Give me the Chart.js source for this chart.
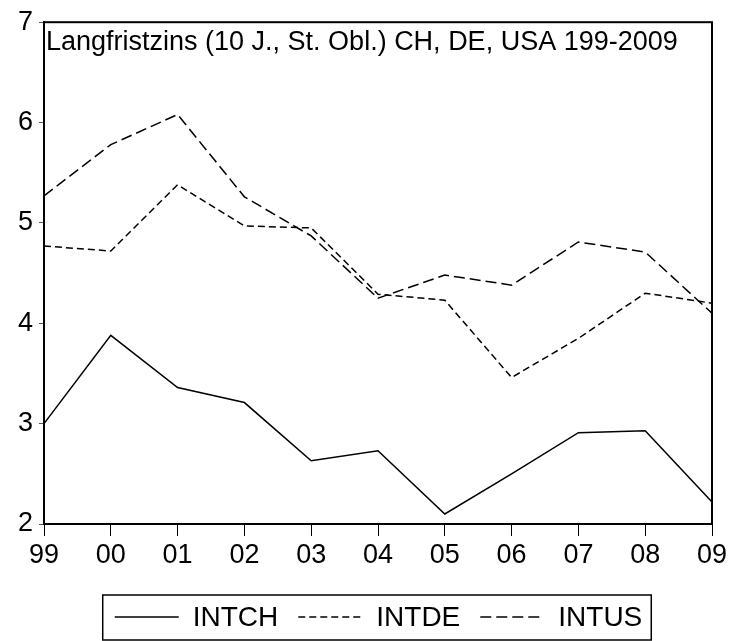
<!DOCTYPE html>
<html>
<head>
<meta charset="utf-8">
<script src="https://cdn.jsdelivr.net/npm/chart.js@4.4.1/dist/chart.umd.min.js"></script>
<style>
  html, body { margin: 0; padding: 0; background: #fff; }
  #box { width: 732px; height: 641px; }
</style>
</head>
<body>
<div id="box"><canvas id="graphique"></canvas></div>
<script>
// ---------------- Donnees ----------------
const titre = 'Langfristzins (10 J., St. Obl.) CH, DE, USA 199-2009';
const annees = ['99', '00', '01', '02', '03', '04', '05', '06', '07', '08', '09'];
const intCH = [3.00, 3.88, 3.36, 3.21, 2.63, 2.73, 2.10, 2.50, 2.91, 2.93, 2.22];
const intDE = [4.77, 4.72, 5.38, 4.97, 4.95, 4.29, 4.23, 3.46, 3.85, 4.30, 4.20];
const intUS = [5.27, 5.78, 6.08, 5.26, 4.87, 4.25, 4.48, 4.38, 4.81, 4.71, 4.10];
const yMin = 2, yMax = 7, yStep = 1;

const police = '"Liberation Sans", Arial, sans-serif';

// cadre autour de la zone, titre dans le graphique, legende encadree en bas
const cadrePlugin = {
    id: 'cadre',
    afterDraw(chart) {
        const ctx = chart.ctx;
        const a = chart.chartArea;
        ctx.save();
        ctx.strokeStyle = '#000';
        ctx.lineWidth = 2;
        ctx.strokeRect(a.left, a.top, a.right - a.left, a.bottom - a.top);

        // titre
        ctx.fillStyle = '#000';
        ctx.font = '27px ' + police;
        ctx.textAlign = 'left';
        ctx.textBaseline = 'alphabetic';
        ctx.fillText(titre, a.left + 2, a.top + 28);

        // legende
        const longLigne = 64, ecartTexte = 14, ecartItem = 20;
        ctx.font = '28px ' + police;
        const items = chart.data.datasets.map(ds => ({
            label: ds.label,
            dash: ds.borderDash || [],
            largeur: ctx.measureText(ds.label).width
        }));
        let total = 0;
        items.forEach((it, i) => {
            total += longLigne + ecartTexte + it.largeur + (i < items.length - 1 ? ecartItem : 0);
        });
        const centreX = (a.left + a.right) / 2 + 0.5;
        const yMilieu = chart.height - 24;
        let x = centreX - total / 2;
        const x1 = x - 12;
        ctx.textBaseline = 'middle';
        items.forEach((it, i) => {
            ctx.setLineDash(it.dash);
            ctx.lineWidth = 1.5;
            ctx.beginPath();
            ctx.moveTo(x, yMilieu);
            ctx.lineTo(x + longLigne, yMilieu);
            ctx.stroke();
            ctx.setLineDash([]);
            x += longLigne + ecartTexte;
            ctx.fillText(it.label, x, yMilieu + 1);
            x += it.largeur + ecartItem;
        });
        const x2 = x - ecartItem + 9;
        ctx.lineWidth = 1.5;
        ctx.strokeRect(x1, chart.height - 46, x2 - x1, 45);
        ctx.restore();
    }
};

function afficherGraphique() {
    const ctx = document.getElementById('graphique');
    new Chart(ctx, {
        type: 'line',
        data: {
            labels: annees,
            datasets: [
                {
                    label: 'INTCH',
                    data: intCH,
                    borderColor: '#000',
                    borderWidth: 1.5,
                    pointRadius: 0,
                    tension: 0
                },
                {
                    label: 'INTDE',
                    data: intDE,
                    borderColor: '#000',
                    borderWidth: 1.5,
                    borderDash: [7, 4],
                    pointRadius: 0,
                    tension: 0
                },
                {
                    label: 'INTUS',
                    data: intUS,
                    borderColor: '#000',
                    borderWidth: 1.5,
                    borderDash: [11, 5],
                    pointRadius: 0,
                    tension: 0
                }
            ]
        },
        options: {
            responsive: true,
            maintainAspectRatio: false,
            animation: false,
            layout: { padding: { top: 22, right: 20, left: 0, bottom: 58 } },
            plugins: {
                title: { display: false },
                tooltip: { enabled: false },
                legend: { display: false }
            },
            scales: {
                x: {
                    offset: false,
                    grid: {
                        display: true,
                        drawOnChartArea: false,
                        tickLength: 12,
                        color: '#000',
                        lineWidth: 1
                    },
                    border: { display: true, color: '#000', width: 2 },
                    ticks: {
                        color: '#000',
                        padding: 3,
                        maxRotation: 0,
                        autoSkip: false,
                        font: { family: police, size: 27 }
                    },
                    afterFit(scale) { scale.height = 59; }
                },
                y: {
                    min: yMin,
                    max: yMax,
                    grid: {
                        display: true,
                        drawOnChartArea: false,
                        tickLength: 5,
                        color: '#555',
                        lineWidth: 1
                    },
                    border: { display: true, color: '#000', width: 2 },
                    ticks: {
                        stepSize: yStep,
                        color: '#000',
                        padding: 6,
                        font: { family: police, size: 27 }
                    },
                    afterFit(scale) { scale.width = 44; }
                }
            }
        },
        plugins: [cadrePlugin]
    });
}

afficherGraphique();
</script>
</body>
</html>
